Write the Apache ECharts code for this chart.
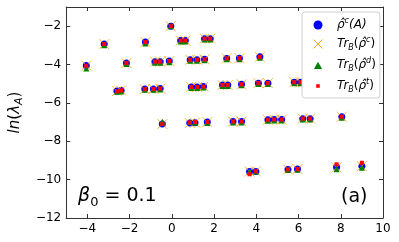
<!DOCTYPE html>
<html>
<head>
<meta charset="utf-8">
<script src="https://cdn.jsdelivr.net/npm/echarts@6/dist/echarts.min.js"></script>
<style>
html, body { margin: 0; padding: 0; background: #fff; }
#chart { width: 399px; height: 242px; }
</style>
</head>
<body>
<div id="chart"></div>
<script>
// x 位置 (所有系列共用)
var xVals = [-4.05, -3.2, -2.6, -2.4, -2.15, -1.25, -1.28, -0.87, -0.55, -0.8,
	-0.55, -0.12, -0.05, -0.45, 0.42, 0.64, 1.55, 1.82, 0.87, 1.19,
	1.55, 2.6, 3.2, 4.17, 0.92, 1.2, 1.5, 2.4, 2.65, 3.3,
	4.1, 4.55, 5.8, 6.1, 0.85, 1.1, 1.68, 2.9, 3.3, 4.55,
	4.85, 5.2, 6.2, 6.55, 8.05, 3.68, 3.98, 5.5, 5.95, 7.8, 9.0];
// ln(lambda_A) 各系列
var yRhoA = [-4.05, -2.93, -5.38, -5.35, -3.92, -2.83, -5.28, -5.27, -5.25, -3.85,
	-3.85, -3.82, -2.0, -7.1, -2.75, -2.75, -2.65, -2.65, -3.75, -3.75,
	-3.73, -3.68, -3.67, -3.6, -5.17, -5.17, -5.15, -5.07, -5.07, -5.03,
	-4.97, -4.97, -4.92, -4.92, -7.05, -7.03, -7.0, -6.97, -6.97, -6.88,
	-6.87, -6.87, -6.82, -6.82, -6.72, -9.58, -9.57, -9.47, -9.45, -9.36, -9.3];
var yTrC = yRhoA.slice();
var yTrD = [-4.2, -3.0, -5.42, -5.4, -3.97, -2.9, -5.32, -5.32, -5.3, -3.9,
	-3.9, -3.88, -2.0, -6.98, -2.8, -2.8, -2.7, -2.7, -3.8, -3.8,
	-3.78, -3.72, -3.72, -3.64, -5.22, -5.22, -5.2, -5.12, -5.12, -5.08,
	-5.02, -5.02, -4.97, -4.97, -7.0, -7.03, -7.05, -7.02, -7.02, -6.93,
	-6.92, -6.92, -6.87, -6.87, -6.77, -9.56, -9.57, -9.5, -9.48, -9.46, -9.38];
var yTrT = [-4.07, -2.93, -5.4, -5.35, -3.92, -2.83, -5.28, -5.27, -5.25, -3.85,
	-3.85, -3.82, -2.0, -7.1, -2.75, -2.75, -2.65, -2.65, -3.75, -3.75,
	-3.73, -3.68, -3.67, -3.6, -5.17, -5.17, -5.15, -5.07, -5.07, -5.03,
	-4.97, -4.97, -4.92, -4.92, -7.02, -7.0, -7.0, -6.97, -6.97, -6.88,
	-6.87, -6.87, -6.82, -6.82, -6.72, -9.72, -9.57, -9.47, -9.45, -9.2, -9.12];
// 刻度
var xTicks = [-4, -2, 0, 2, 4, 6, 8, 10];
var yTicks = [-12, -10, -8, -6, -4, -2];
// 图例名称
var seriesNames = ['rhoA', 'trC', 'trD', 'trT'];
var legendLabels = {
	rhoA: '{i|ρ̂}{sp|c}{i|(A)}',
	trC: '{i|Tr}{sb|B}{u|(}{i|ρ̂}{sp|c}{u|)}',
	trD: '{i|Tr}{sb|B}{u|(}{i|ρ̂}{sp|d}{u|)}',
	trT: '{i|Tr}{sb|B}{u|(}{i|ρ̂}{sp|t}{u|)}'
};

var FONT = 'DejaVu Sans';
var AXIS_COLOR = '#333';

function pairs(ys) {
	return xVals.map(function (x, i) { return [x, ys[i]]; });
}
function fmt(v) {
	return String(v).replace('-', '\u2212');
}
function richSet(size) {
	return {
		i: { fontFamily: FONT, fontStyle: 'italic', fontSize: size, lineHeight: size + 4, color: '#000' },
		u: { fontFamily: FONT, fontSize: size, lineHeight: size + 4, color: '#000' },
		sb: { fontFamily: FONT, fontStyle: 'italic', fontSize: Math.round(size * 0.7), lineHeight: 6, verticalAlign: 'bottom', color: '#000' },
		sp: { fontFamily: FONT, fontStyle: 'italic', fontSize: Math.round(size * 0.7), lineHeight: 6, verticalAlign: 'top', color: '#000' }
	};
}

function mainAxis(pos, min, max, ticks, showLabel) {
	return {
		type: 'value',
		position: pos,
		min: min,
		max: max,
		splitLine: { show: false },
		axisLine: { show: true, onZero: false, lineStyle: { color: AXIS_COLOR, width: 1 } },
		axisTick: { show: true, inside: true, length: 4, customValues: ticks, lineStyle: { color: AXIS_COLOR } },
		axisLabel: {
			show: showLabel,
			customValues: ticks,
			formatter: fmt,
			fontFamily: FONT,
			fontSize: 12,
			color: '#000',
			margin: 5
		}
	};
}

var xBottom = mainAxis('bottom', -5, 10, xTicks, true);
var xTop = mainAxis('top', -5, 10, xTicks, false);
var yLeft = mainAxis('left', -12, -1, yTicks, true);
var yRight = mainAxis('right', -12, -1, yTicks, false);
yLeft.name = '{i|ln}{u|(}{i|λ}{sb|A}{u|)}';
yLeft.nameLocation = 'middle';
yLeft.nameRotate = 90;
yLeft.nameGap = 30;
yLeft.nameTextStyle = { fontFamily: FONT, fontSize: 15, rich: richSet(15) };

var myChart = echarts.init(document.getElementById('chart'), null, { renderer: 'canvas' });

var option = {
	animation: false,
	backgroundColor: '#fff',
	grid: { left: 57, right: 16, top: 7, bottom: 24, containLabel: false },
	xAxis: [xBottom, xTop],
	yAxis: [yLeft, yRight],
	legend: {
		left: 302,
		top: 12,
		orient: 'vertical',
		backgroundColor: '#fff',
		borderColor: '#d0d0d0',
		borderWidth: 1,
		borderRadius: 3,
		padding: [5, 4, 4, 9],
		itemWidth: 14,
		itemHeight: 9,
		itemGap: 5,
		data: [
			{ name: 'rhoA', icon: 'circle' },
			{ name: 'trC', icon: 'path://M0,0L10,10M10,0L0,10', itemStyle: { borderWidth: 0.9 } },
			{ name: 'trD', icon: 'path://M0,0M10,10M5,1.5L9.5,9.5L0.5,9.5Z' },
			{ name: 'trT', icon: 'path://M0,0M10,10M3,3L7,3L7,7L3,7Z' }
		],
		formatter: function (name) { return legendLabels[name]; },
		textStyle: { fontFamily: FONT, fontSize: 12, padding: [0, 0, 0, 7], rich: richSet(12) }
	},
	graphic: [
		{
			type: 'text', left: 78, top: 187,
			style: {
				text: '{i|β}{sb|0}{u| = 0.1}',
				rich: {
					i: { fontFamily: FONT, fontStyle: 'italic', fontSize: 19, lineHeight: 25, fill: '#000' },
					u: { fontFamily: FONT, fontSize: 19, lineHeight: 25, fill: '#000' },
					sb: { fontFamily: FONT, fontSize: 13, lineHeight: 10, verticalAlign: 'bottom', fill: '#000' }
				}
			}
		},
		{
			type: 'text', left: 341, top: 188,
			style: { text: '(a)', fontFamily: FONT, fontSize: 19, fill: '#000' }
		}
	],
	series: [
		{
			name: 'rhoA', type: 'scatter', symbol: 'circle', symbolSize: 7,
			itemStyle: { color: '#0000ff', opacity: 1 },
			data: pairs(yRhoA)
		},
		{
			name: 'trC', type: 'scatter', symbol: 'path://M0,0L10,10M10,0L0,10', symbolSize: 10,
			itemStyle: { color: 'none', borderColor: '#ffa500', borderWidth: 0.8, opacity: 1 },
			data: pairs(yTrC)
		},
		{
			name: 'trD', type: 'scatter', symbol: 'triangle', symbolSize: 6,
			itemStyle: { color: '#008000', opacity: 1 },
			data: pairs(yTrD)
		},
		{
			name: 'trT', type: 'scatter', symbol: 'rect', symbolSize: 4,
			itemStyle: { color: '#ff0000', opacity: 1 },
			data: pairs(yTrT)
		}
	]
};
// 使用刚指定的配置项和数据显示图表。
myChart.setOption(option);
</script>
</body>
</html>
